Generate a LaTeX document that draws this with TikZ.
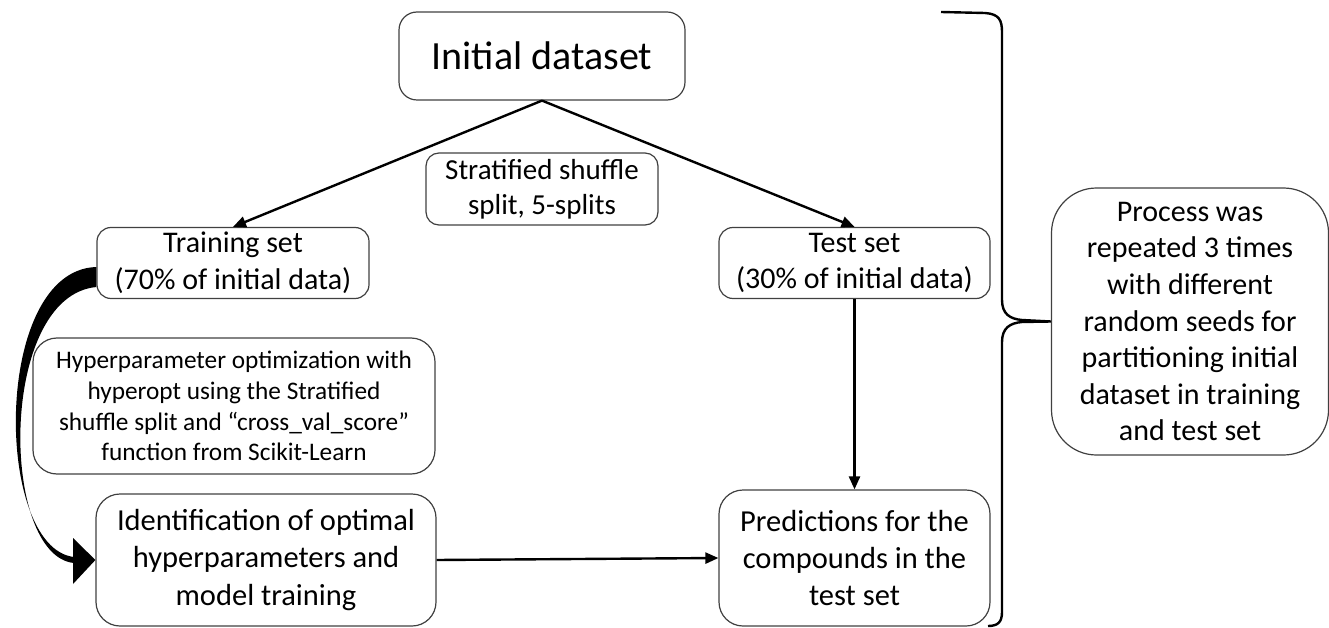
\documentclass[tikz,border=0pt]{standalone}
\usepackage{fontspec}
\setmainfont{Carlito}
\usetikzlibrary{arrows.meta}
\newcommand\myfs[1]{\fontsize{#1}{1.22\dimexpr#1pt\relax}\selectfont}
\begin{document}
\begin{tikzpicture}[x=1pt,y=-1pt,
  box/.style={draw=black!75,line width=1.2pt,rounded corners=#1,align=center,inner sep=0pt},
  box/.default=16pt,
  arr/.style={line width=2.4pt,-{Triangle[length=13pt,width=11pt]}}]
\useasboundingbox (0,0) rectangle (1329,628);
\node[box=18pt,minimum width=286pt,minimum height=88pt,font=\myfs{40}] (init) at (542,56) {Initial dataset};
\node[box=13pt,minimum width=232pt,minimum height=72pt,font=\myfs{29}] (strat) at (542,189) {Stratified shuffle\\split, 5-splits};
\node[box=14pt,minimum width=272pt,minimum height=71pt,font=\myfs{30}] (train) at (233,263) {Training set\\(70\% of initial data)};
\node[box=14pt,minimum width=271pt,minimum height=71pt,font=\myfs{30}] (test) at (854.5,263) {Test set\\(30\% of initial data)};
\node[box=24pt,minimum width=402pt,minimum height=136pt,font=\myfs{25.3}] (hyper) at (234,406) {Hyperparameter optimization with\\hyperopt using the Stratified\\shuffle split and “cross\_val\_score”\\function from Scikit-Learn};
\node[box=24pt,minimum width=340pt,minimum height=132pt,font=\myfs{30.5}] (ident) at (266,560) {Identification of optimal\\hyperparameters and\\model training};
\node[box=24pt,minimum width=271pt,minimum height=136pt,font=\myfs{30.5}] (pred) at (854.5,558) {Predictions for the\\compounds in the\\test set};
\node[box=45pt,minimum width=277pt,minimum height=267pt,font=\myfs{30}] (proc) at (1190,321.5) {Process was\\repeated 3 times\\with different\\random seeds for\\partitioning initial\\dataset in training\\and test set};
\draw[arr] (init.south) -- (train.north);
\draw[arr] (init.south) -- (test.north);
\draw[arr] (test.south) -- (pred.north);
\draw[arr] (ident.east) -- (pred.west);
% thick tapered curved arrow from training set to identification box
\fill ([yshift=-4pt]train.west) .. controls (-8,270) and (-6,548) .. (74,557)
  -- (74,563) .. controls (0,556) and (-2,296) .. ([yshift=-24pt]train.west) -- cycle;
\fill (73,538) -- (ident.west) -- (73,584) -- cycle;
\coordinate (bt) at (941,12);
\coordinate (bb) at (988,626);
\draw[line width=2.4pt] (bt) -- (985,13) .. controls (999,14) and (1002,20) .. (1002,32) -- (1002,300) .. controls (1002,314) and (1010,319) .. (1022,320) -- (proc.west) -- (1022,322) .. controls (1010,323) and (1002,328) .. (1002,342) -- (1002,612) .. controls (1002,622) and (998,626) .. (bb);
\end{tikzpicture}
\end{document}
